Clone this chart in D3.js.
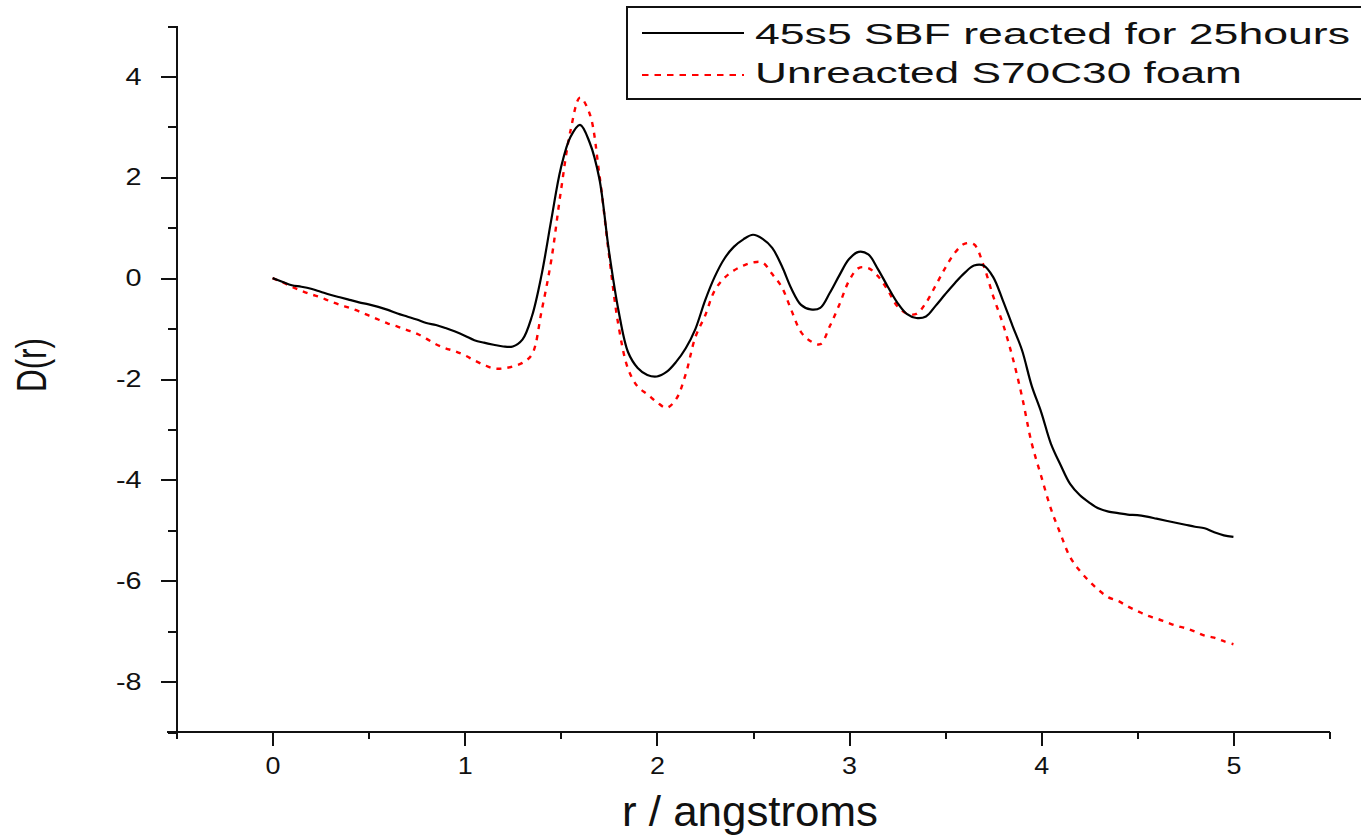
<!DOCTYPE html>
<html>
<head>
<meta charset="utf-8">
<script src="https://cdn.jsdelivr.net/npm/d3@7"></script>
<style>
  html, body { margin: 0; padding: 0; background: #ffffff; }
  svg { display: block; }
  text { font-family: "Liberation Sans", Arial, Helvetica, sans-serif; fill: #111; }
</style>
</head>
<body>
<svg id="chart" width="1361" height="837"></svg>
<script>
// Radial distance r (angstroms)
const rValues = [
  0.00, 0.05, 0.10, 0.15, 0.20, 0.25, 0.30, 0.35, 0.40, 0.45,
  0.50, 0.55, 0.60, 0.65, 0.70, 0.75, 0.80, 0.85, 0.90, 0.95,
  1.00, 1.05, 1.10, 1.15, 1.20, 1.25, 1.30, 1.35, 1.40, 1.45,
  1.50, 1.55, 1.60, 1.65, 1.70, 1.75, 1.80, 1.85, 1.90, 1.95,
  2.00, 2.05, 2.10, 2.15, 2.20, 2.25, 2.30, 2.35, 2.40, 2.45,
  2.50, 2.55, 2.60, 2.65, 2.70, 2.75, 2.80, 2.85, 2.90, 2.95,
  3.00, 3.05, 3.10, 3.15, 3.20, 3.25, 3.30, 3.35, 3.40, 3.45,
  3.50, 3.55, 3.60, 3.65, 3.70, 3.75, 3.80, 3.85, 3.90, 3.95,
  4.00, 4.05, 4.10, 4.15, 4.20, 4.25, 4.30, 4.35, 4.40, 4.45,
  4.50, 4.55, 4.60, 4.65, 4.70, 4.75, 4.80, 4.85, 4.90, 4.95,
  5.00
];

// D(r) of 45S5 after 25 hours in SBF
const dReacted = [
  0.00, -0.07, -0.14, -0.17, -0.21, -0.27, -0.33, -0.38, -0.43, -0.48,
  -0.52, -0.57, -0.63, -0.70, -0.76, -0.82, -0.89, -0.93, -0.99, -1.06,
  -1.14, -1.23, -1.28, -1.32, -1.355, -1.355, -1.22, -0.75, 0.07, 1.15,
  2.18, 2.80, 3.04, 2.69, 1.98, 0.55, -0.64, -1.47, -1.78, -1.92,
  -1.95, -1.86, -1.66, -1.39, -1.01, -0.45, 0.02, 0.38, 0.62, 0.77,
  0.86, 0.78, 0.60, 0.24, -0.21, -0.53, -0.62, -0.59, -0.29, 0.06,
  0.38, 0.52, 0.47, 0.18, -0.16, -0.48, -0.71, -0.79, -0.76, -0.55,
  -0.32, -0.10, 0.10, 0.25, 0.25, 0.02, -0.44, -0.94, -1.43, -2.13,
  -2.66, -3.28, -3.70, -4.08, -4.30, -4.45, -4.57, -4.63, -4.66, -4.69,
  -4.70, -4.73, -4.77, -4.81, -4.85, -4.89, -4.93, -4.96, -5.04, -5.10,
  -5.13
];

// D(r) of the unreacted S70C30 foam
const dUnreacted = [
  0.00, -0.08, -0.17, -0.25, -0.32, -0.38, -0.46, -0.53, -0.59, -0.66,
  -0.74, -0.82, -0.90, -0.96, -1.03, -1.10, -1.20, -1.31, -1.39, -1.45,
  -1.53, -1.63, -1.72, -1.79, -1.79, -1.75, -1.68, -1.51, -0.65, 0.35,
  1.72, 2.92, 3.58, 3.26, 2.07, 0.48, -0.94, -1.80, -2.15, -2.30,
  -2.46, -2.57, -2.40, -1.90, -1.17, -0.75, -0.25, 0.00, 0.15, 0.25,
  0.31, 0.31, 0.08, -0.18, -0.64, -1.07, -1.25, -1.31, -0.95, -0.52,
  -0.05, 0.20, 0.20, 0.04, -0.23, -0.55, -0.70, -0.71, -0.49, -0.15,
  0.20, 0.50, 0.68, 0.67, 0.25, -0.36, -0.90, -1.56, -2.35, -3.27,
  -3.93, -4.57, -5.07, -5.53, -5.80, -6.01, -6.19, -6.33, -6.40, -6.51,
  -6.60, -6.69, -6.75, -6.82, -6.89, -6.94, -7.01, -7.09, -7.13, -7.20,
  -7.26
];

const seriesNames = ["45s5 SBF reacted for 25hours", "Unreacted S70C30 foam"];
const xMajorTicks = [0, 1, 2, 3, 4, 5];
const xMinorTicks = [-0.5, 0.5, 1.5, 2.5, 3.5, 4.5, 5.5];
const yMajorTicks = [-8, -6, -4, -2, 0, 2, 4];
const yMinorTicks = [-9, -7, -5, -3, -1, 1, 3, 5];
const xTitle = "r / angstroms";
const yTitle = "D(r)";

const svg = d3.select("#chart");

const x = d3.scaleLinear().domain([-0.5, 5.5]).range([176.5, 1329.5]);
const y = d3.scaleLinear().domain([-9, 5]).range([732, 26]);

const axisColor = "#111";
const plainNumber = d => String(d);   // ASCII hyphen for negatives

// ---- x axis ----
const gx = svg.append("g").attr("transform", `translate(0,${y(-9)})`);
gx.call(d3.axisBottom(x).tickValues(xMinorTicks).tickSize(7).tickSizeOuter(0).tickFormat(""));
gx.call(g => g.select(".domain").remove());
const gxMajor = svg.append("g").attr("transform", `translate(0,${y(-9)})`);
gxMajor.call(d3.axisBottom(x).tickValues(xMajorTicks).tickSize(14).tickPadding(11)
  .tickSizeOuter(0).tickFormat(plainNumber));
gxMajor.select(".domain").attr("d", `M${x(-0.5) - 10},0H${x(5.5)}`);

// ---- y axis ----
const gy = svg.append("g").attr("transform", `translate(${x(-0.5)},0)`);
gy.call(d3.axisLeft(y).tickValues(yMinorTicks).tickSize(9).tickSizeOuter(0).tickFormat(""));
gy.call(g => g.select(".domain").remove());
const gyMajor = svg.append("g").attr("transform", `translate(${x(-0.5)},0)`);
gyMajor.call(d3.axisLeft(y).tickValues(yMajorTicks).tickSize(16).tickPadding(19)
  .tickSizeOuter(0).tickFormat(plainNumber));
gyMajor.select(".domain").attr("d", `M0,${y(5)}V${y(-9)}`);

svg.selectAll(".domain, .tick line")
  .attr("stroke", axisColor).attr("stroke-width", 2).attr("shape-rendering", "crispEdges");
svg.selectAll(".tick text")
  .attr("font-size", 24).attr("fill", axisColor)
  .style("font-family", "'Liberation Sans', Arial, sans-serif");

// Widen the y tick labels slightly around their right-hand anchor
gyMajor.selectAll(".tick text").each(function () {
  const t = d3.select(this);
  const tx = +t.attr("x");
  t.attr("transform", `translate(${tx},0) scale(1.2,1) translate(${-tx},0)`);
});
gxMajor.selectAll(".tick text").attr("transform", "scale(1.12,1)");

// ---- axis titles ----
svg.append("text")
  .attr("x", (x(-0.5) + x(5.5)) / 2 - 3)
  .attr("y", 826)
  .attr("text-anchor", "middle")
  .attr("font-size", 43)
  .attr("textLength", 256)
  .attr("lengthAdjust", "spacingAndGlyphs")
  .text(xTitle);

svg.append("text")
  .attr("transform", "translate(46,365) rotate(-90)")
  .attr("text-anchor", "middle")
  .attr("font-size", 42)
  .attr("textLength", 54)
  .attr("lengthAdjust", "spacingAndGlyphs")
  .text(yTitle);

// ---- curves ----
const line = (vals) => d3.line()
  .x((d, i) => x(rValues[i]))
  .y(d => y(d))
  .curve(d3.curveCatmullRom.alpha(0.5))(vals);

svg.append("path")
  .attr("d", line(dUnreacted))
  .attr("fill", "none")
  .attr("stroke", "#ff0000")
  .attr("stroke-width", 2.4)
  .attr("stroke-dasharray", "5,6");

svg.append("path")
  .attr("d", line(dReacted))
  .attr("fill", "none")
  .attr("stroke", "#000")
  .attr("stroke-width", 2.2);

// ---- legend ----
const legend = svg.append("g");
legend.append("rect")
  .attr("x", 627).attr("y", 7)
  .attr("width", 760).attr("height", 92)
  .attr("fill", "#fff")
  .attr("stroke", axisColor).attr("stroke-width", 2);

const legendRows = [
  { name: seriesNames[0], color: "#000", dash: null, lineY: 33, textY: 44, width: 595 },
  { name: seriesNames[1], color: "#ff0000", dash: "6.5,6", lineY: 75, textY: 83, width: 487 }
];
legendRows.forEach(row => {
  legend.append("line")
    .attr("x1", 642).attr("x2", 744)
    .attr("y1", row.lineY).attr("y2", row.lineY)
    .attr("stroke", row.color).attr("stroke-width", 2.2)
    .attr("stroke-dasharray", row.dash);
  legend.append("text")
    .attr("x", 755).attr("y", row.textY)
    .attr("font-size", 30)
    .attr("textLength", row.width)
    .attr("lengthAdjust", "spacingAndGlyphs")
    .text(row.name);
});
</script>
</body>
</html>
